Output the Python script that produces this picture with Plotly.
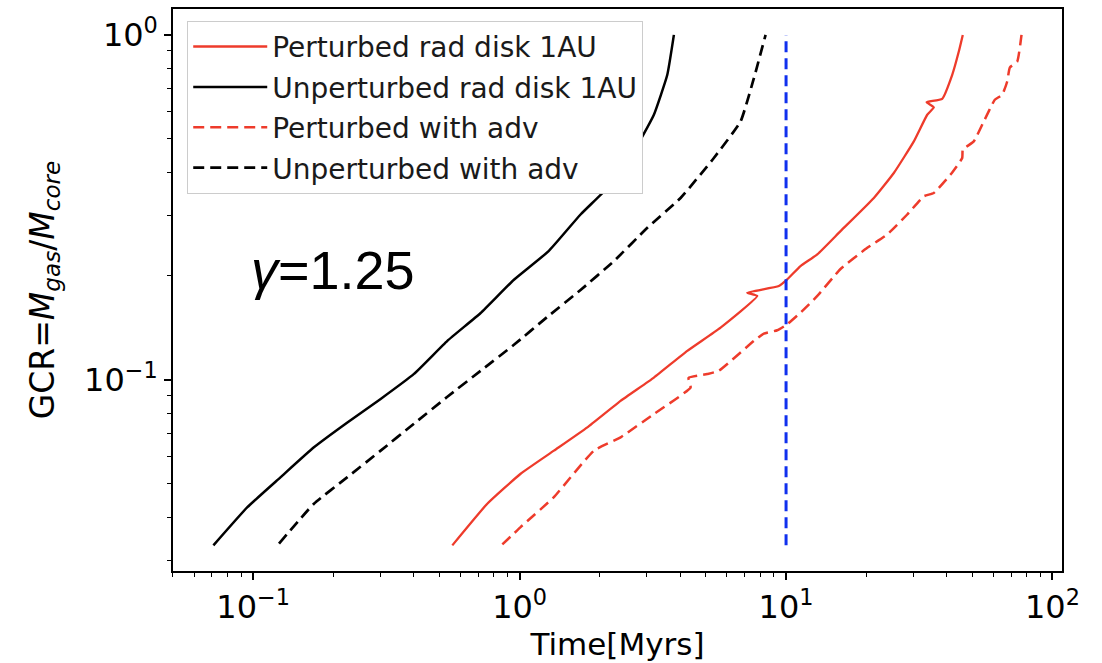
import plotly.graph_objects as go

# Gas-to-core ratio growth curves (time in Myr, GCR = M_gas / M_core)
t_pert_rad = [0.5589, 0.7562, 1.0087, 1.345, 1.795, 2.393, 3.191, 4.259, 5.679, 7.797,
              7.152, 9.397, 10.10, 11.33, 13.10, 16.01, 21.36, 25.38, 30.17, 33.87,
              35.86, 33.67, 38.56, 42.04, 44.50, 46.06]
gcr_pert_rad = [0.0331, 0.0437, 0.0534, 0.0623, 0.0728, 0.0869, 0.1015, 0.1213, 0.1417, 0.1750,
                0.1789, 0.1870, 0.1955, 0.2137, 0.2310, 0.2698, 0.3367, 0.3978, 0.4913, 0.5869,
                0.6163, 0.6383, 0.6530, 0.7663, 0.8948, 1.0]

t_unpert_rad = [0.0709, 0.0951, 0.1268, 0.1690, 0.2257, 0.3009, 0.4013, 0.5355, 0.7140, 0.9519,
                1.285, 1.693, 2.134, 2.685, 3.191, 3.583, 3.793]
gcr_unpert_rad = [0.0331, 0.0427, 0.0522, 0.0637, 0.0752, 0.0880, 0.1040, 0.1297, 0.1562, 0.1950,
                  0.2361, 0.3015, 0.3599, 0.4597, 0.5869, 0.7663, 1.0]

t_pert_adv = [0.8612, 1.0087, 1.345, 1.900, 2.393, 3.191, 4.382, 4.306, 5.062, 5.595,
              7.573, 8.255, 9.268, 10.10, 11.33, 13.10, 16.01, 20.17, 23.97, 28.50,
              32.89, 35.86, 41.43, 45.83, 46.06, 50.66, 55.24, 60.74, 64.75, 67.61,
              69.15, 73.71, 76.51]
gcr_pert_adv = [0.0333, 0.0374, 0.0457, 0.0623, 0.0681, 0.0796, 0.0950, 0.1013, 0.1039, 0.1062,
                0.1297, 0.1361, 0.1392, 0.1449, 0.1565, 0.1750, 0.2095, 0.2413, 0.2639, 0.3015,
                0.3405, 0.3481, 0.3936, 0.4396, 0.4649, 0.4913, 0.5614, 0.6486, 0.6707, 0.7326,
                0.8043, 0.8370, 1.0]

t_unpert_adv = [0.1250, 0.1690, 0.2257, 0.3009, 0.4013, 0.5355, 0.7140, 0.9519, 1.270, 1.693,
                2.259, 3.015, 4.019, 5.358, 6.751, 7.573, 8.378]
gcr_unpert_adv = [0.0335, 0.0437, 0.0522, 0.0623, 0.0746, 0.0893, 0.1062, 0.1263, 0.1521, 0.1821,
                  0.2209, 0.2758, 0.3367, 0.4396, 0.5614, 0.7489, 1.0]

# Reference time marker
t_marker = [10.0, 10.0]
gcr_marker = [0.0331, 1.0]

x_major = [0.1, 1, 10, 100]
x_major_text = ["10<sup>\u22121</sup>", "10<sup>0</sup>", "10<sup>1</sup>", "10<sup>2</sup>"]
y_major = [0.1, 1]
y_major_text = ["10<sup>\u22121</sup>", "10<sup>0</sup>"]

RED = "#ee3b2b"
BLACK = "#000000"
BLUE = "#1030ee"
FONT = "DejaVu Sans"

fig = go.Figure()

series = [
    ("Perturbed rad disk 1AU", t_pert_rad, gcr_pert_rad, RED, "solid", 2.3),
    ("Unperturbed rad disk 1AU", t_unpert_rad, gcr_unpert_rad, BLACK, "solid", 2.5),
    ("Perturbed with adv", t_pert_adv, gcr_pert_adv, RED, "11px,6px", 2.5),
    ("Unperturbed with adv", t_unpert_adv, gcr_unpert_adv, BLACK, "11px,6px", 2.7),
]
for i, (name, t, g, color, dash, w) in enumerate(series):
    fig.add_trace(go.Scatter(
        x=t, y=g, mode="lines", name=name, legendgroup=f"g{i}",
        line=dict(color=color, width=w, dash=dash, shape="spline", smoothing=0.4),
    ))

fig.add_trace(go.Scatter(
    x=t_marker, y=gcr_marker, mode="lines", showlegend=False,
    line=dict(color=BLUE, width=3, dash="11px,6px"),
))

def minor_vals(lo_exp, hi_exp):
    return [k * 10.0 ** e for e in range(lo_exp, hi_exp) for k in range(2, 10)]

axis_common = dict(
    type="log", showgrid=False, zeroline=False,
    showline=True, linecolor="black", linewidth=1.5, mirror=True,
    ticks="outside", ticklen=7, tickwidth=1.5, tickcolor="black",
    tickfont=dict(family=FONT, size=32, color="black"),
    tickmode="array",
)

fig.update_xaxes(
    **axis_common,
    range=[-1.301, 2.0357],
    tickvals=x_major, ticktext=x_major_text,
    minor=dict(ticks="outside", ticklen=4, tickwidth=1.2, tickcolor="black",
               tickmode="array", tickvals=minor_vals(-2, 3), showgrid=False),
    title=dict(text="Time[Myrs]", font=dict(family=FONT, size=31, color="black"), standoff=4),
)
fig.update_yaxes(
    **axis_common,
    range=[-1.5545, 0.0752],
    tickvals=y_major, ticktext=y_major_text,
    minor=dict(ticks="outside", ticklen=4, tickwidth=1.2, tickcolor="black",
               tickmode="array", tickvals=minor_vals(-2, 1), showgrid=False),
    title=dict(text="GCR=<i>M</i><sub><i>gas</i></sub>/<i>M</i><sub><i>core</i></sub>",
               font=dict(family=FONT, size=33, color="black"), standoff=20),
)

fig.add_annotation(
    xref="paper", yref="paper", x=0.085, y=0.535, xanchor="left", yanchor="middle",
    text="<i>\u03b3</i>=1.25", showarrow=False,
    font=dict(family="Liberation Sans", size=54, color="black"),
)

fig.update_layout(
    width=1102, height=663,
    margin=dict(l=173, r=40, t=7, b=92),
    paper_bgcolor="white", plot_bgcolor="white",
    legend=dict(
        x=0.016, y=0.979, xanchor="left", yanchor="top",
        bgcolor="white", bordercolor="#cccccc", borderwidth=1,
        font=dict(family=FONT, size=28, color="#1a1a1a"),
        tracegroupgap=1, itemwidth=74,
    ),
    showlegend=True,
)

fig.write_html("out.html")
